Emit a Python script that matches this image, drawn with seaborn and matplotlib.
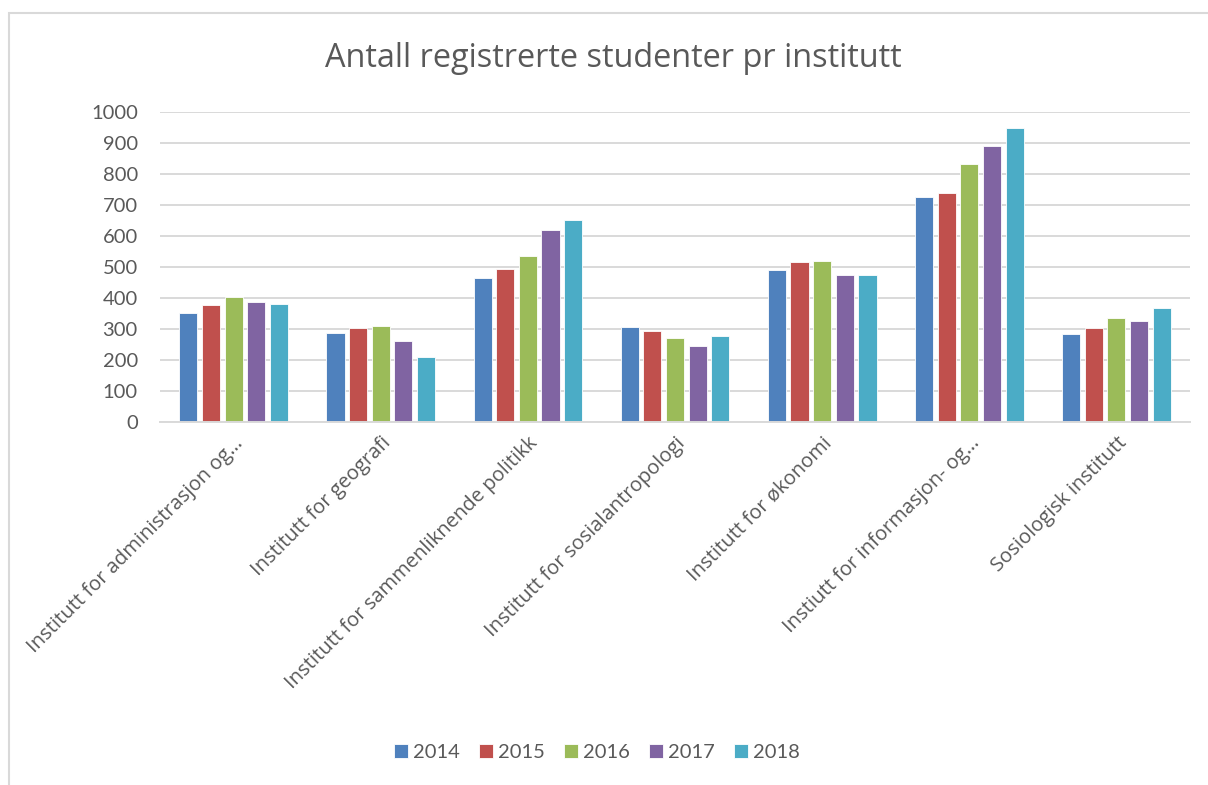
import matplotlib
matplotlib.use("Agg")
import matplotlib.pyplot as plt
import pandas as pd
import seaborn as sns
from matplotlib.patches import Rectangle

institutes = [
    "Institutt for administrasjon og…",
    "Institutt for geografi",
    "Institutt for sammenliknende politikk",
    "Institutt for sosialantropologi",
    "Institutt for økonomi",
    "Instiutt for informasjon- og…",
    "Sosiologisk institutt",
]
years = ["2014", "2015", "2016", "2017", "2018"]
v2014 = [352, 286, 465, 307, 490, 725, 285]
v2015 = [377, 302, 495, 292, 516, 738, 304]
v2016 = [402, 309, 535, 272, 518, 831, 336]
v2017 = [386, 262, 618, 246, 474, 889, 326]
v2018 = [382, 210, 653, 279, 475, 948, 369]
colors = ["#4F81BD", "#C0504D", "#9BBB59", "#8064A2", "#4BACC6"]

rows = []
for year, vals in zip(years, [v2014, v2015, v2016, v2017, v2018]):
    for inst, v in zip(institutes, vals):
        rows.append({"institutt": inst, "år": year, "antall": v})
df = pd.DataFrame(rows)

sns.set_theme(style="white")
plt.rcParams["font.family"] = ["Lato", "DejaVu Sans"]
text_color = "#595959"
grid_color = "#D9D9D9"

fig = plt.figure(figsize=(12.08, 7.85), dpi=100)
ax = fig.add_axes([0.1325, 0.4624, 0.8526, 0.3949])
sns.barplot(data=df, x="institutt", y="antall", hue="år", hue_order=years,
            palette=colors, width=0.77, gap=0.2, ax=ax, saturation=1,
            edgecolor="white", linewidth=0.6)

ax.set_ylim(0, 1000)
ax.set_xlim(-0.5, len(institutes) - 0.5)
ax.set_yticks(range(0, 1001, 100))
ax.yaxis.grid(True, color=grid_color, linewidth=1.4)
ax.set_axisbelow(True)
for side in ["left", "right", "top"]:
    ax.spines[side].set_visible(False)
ax.spines["bottom"].set_color(grid_color)
ax.spines["bottom"].set_linewidth(1.4)
ax.tick_params(axis="y", length=0, colors=text_color, labelsize=14.5, pad=16)
ax.tick_params(axis="x", length=0, colors=text_color, pad=8)
ax.set_xticks(range(len(institutes)))
ax.set_xticklabels(institutes, rotation=45, ha="right", rotation_mode="anchor",
                   family=["Open Sans", "DejaVu Sans"], fontsize=14.5)
ax.set_xlabel("")
ax.set_ylabel("")

fig.text(0.508, 0.926, "Antall registrerte studenter pr institutt", ha="center",
         va="center", fontsize=23.4, color=text_color,
         family=["Open Sans", "DejaVu Sans"])

handles, labels = ax.get_legend_handles_labels()
ax.legend_.remove()
fig.legend(handles, labels, loc="center", bbox_to_anchor=(0.494, 0.041), ncol=5,
           frameon=False, handlelength=0.7, handleheight=0.7,
           handletextpad=0.25, columnspacing=0.95, labelcolor=text_color,
           prop={"family": ["Lato", "DejaVu Sans"], "size": 14.5})

fig.patches.append(Rectangle((0.0072, -0.05), 1.05, 1.033, transform=fig.transFigure,
                             fill=False, edgecolor=grid_color, linewidth=1.5))

fig.savefig("out.png", dpi=100, facecolor="white")
